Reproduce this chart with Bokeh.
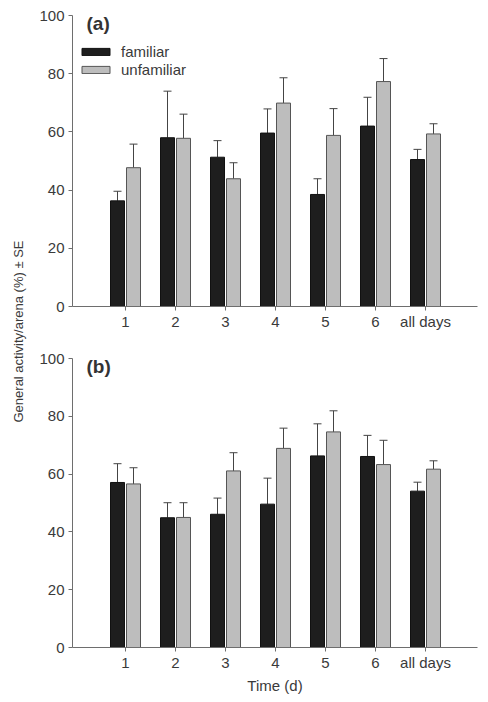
import numpy as np
from bokeh.plotting import figure
from bokeh.layouts import row, column
from bokeh.models import (FixedTicker, Label, Legend, LegendItem, Whisker,
                          ColumnDataSource, TeeHead, Range1d)
from bokeh.embed import file_html
from bokeh.resources import INLINE

categories = ["1", "2", "3", "4", "5", "6", "all days"]
a_familiar = [36.3, 58.0, 51.3, 59.6, 38.5, 62.0, 50.5]
a_familiar_se_top = [39.6, 74.0, 57.0, 67.9, 43.9, 71.9, 54.0]
a_unfamiliar = [47.7, 57.8, 43.9, 69.9, 58.8, 77.3, 59.3]
a_unfamiliar_se_top = [55.8, 66.1, 49.4, 78.6, 68.0, 85.2, 62.8]
b_familiar = [57.1, 44.9, 46.1, 49.6, 66.3, 66.1, 54.1]
b_familiar_se_top = [63.6, 50.1, 51.7, 58.6, 77.4, 73.4, 57.2]
b_unfamiliar = [56.6, 45.0, 61.1, 68.9, 74.6, 63.3, 61.7]
b_unfamiliar_se_top = [62.2, 50.1, 67.4, 75.9, 81.9, 71.7, 64.6]
y_ticks = [0, 20, 40, 60, 80, 100]

FONT = "Liberation Sans"
TXT = "#3a3a3a"
AX = "#6e6e6e"
DARK = "#1e1e1e"
LIGHT = "#bdbdbd"


def make_panel(tag, fam, fam_top, unf, unf_top, height, top, bottom, xlabel, legend):
    p = figure(width=448, height=height, output_backend="svg", toolbar_location=None,
               x_range=Range1d(-0.06, 8.04), y_range=Range1d(0, 100))
    p.min_border_left = 40
    p.min_border_right = 3
    p.min_border_top = top
    p.min_border_bottom = bottom
    p.outline_line_color = None
    p.grid.visible = False
    p.background_fill_color = "white"
    p.border_fill_color = "white"

    x = np.arange(1, len(categories) + 1)
    xf = x - 0.16
    xu = x + 0.16
    src = ColumnDataSource(dict(xf=xf, xu=xu, fam=fam, unf=unf, ft=fam_top, ut=unf_top))
    r1 = p.vbar(x="xf", top="fam", width=0.28, bottom=0, source=src,
                fill_color=DARK, line_color="#111111", line_width=1)
    r2 = p.vbar(x="xu", top="unf", width=0.28, bottom=0, source=src,
                fill_color=LIGHT, line_color="#555555", line_width=1)
    for base, lo, hi in (("xf", "fam", "ft"), ("xu", "unf", "ut")):
        w = Whisker(base=base, lower=lo, upper=hi, source=src, dimension="height",
                    line_color="#444444", line_width=1,
                    lower_head=None, upper_head=TeeHead(size=8, line_color="#444444", line_width=1))
        p.add_layout(w)

    p.xaxis.ticker = FixedTicker(ticks=list(x))
    p.xaxis.major_label_overrides = {int(i): c for i, c in zip(x, categories)}
    p.yaxis.ticker = FixedTicker(ticks=y_ticks)
    for ax in (p.xaxis, p.yaxis):
        ax.axis_line_color = AX
        ax.major_tick_line_color = AX
        ax.minor_tick_line_color = None
        ax.major_tick_out = 4
        ax.major_tick_in = 0
        ax.major_label_text_font = FONT
        ax.major_label_text_font_size = "15px"
        ax.major_label_text_color = TXT
    p.xaxis.major_label_standoff = 2
    p.yaxis.major_label_standoff = 4
    if xlabel:
        p.xaxis.axis_label = xlabel
        p.xaxis.axis_label_text_font = FONT
        p.xaxis.axis_label_text_font_size = "15px"
        p.xaxis.axis_label_text_font_style = "normal"
        p.xaxis.axis_label_text_color = TXT
        p.xaxis.axis_label_standoff = 3

    p.add_layout(Label(x=0.22, y=97.3, text=tag, text_font=FONT, text_font_size="19px",
                       text_font_style="bold", text_color="#333333", text_baseline="middle"))

    if legend:
        lg = Legend(items=[LegendItem(label="familiar", renderers=[r1]),
                           LegendItem(label="unfamiliar", renderers=[r2])],
                    location=(6, 228), margin=0, padding=0, spacing=0,
                    glyph_width=35, glyph_height=9, label_height=18,
                    label_standoff=8, border_line_color=None,
                    background_fill_alpha=0,
                    label_text_font=FONT, label_text_font_size="15px",
                    label_text_color=TXT)
        p.add_layout(lg)
    return p


pa = make_panel("(a)", a_familiar, a_familiar_se_top, a_unfamiliar, a_unfamiliar_se_top,
                340, 15, 34, None, True)
pb = make_panel("(b)", b_familiar, b_familiar_se_top, b_unfamiliar, b_unfamiliar_se_top,
                358, 18, 51, "Time (d)", False)

lab = figure(width=32, height=698, output_backend="svg", toolbar_location=None,
             x_range=Range1d(0, 1), y_range=Range1d(0, 1))
lab.axis.visible = False
lab.grid.visible = False
lab.outline_line_color = None
lab.min_border = 0
lab.add_layout(Label(x=0.56, y=1 - 331 / 698, text="General activity/arena (%) \u00b1 SE", angle=np.pi / 2,
                     text_align="center", text_baseline="middle", text_font=FONT,
                     text_font_size="13px", text_color=TXT))

layout = row(lab, column(pa, pb, spacing=0), spacing=0)
open("out.html", "w").write(file_html(layout, INLINE))
